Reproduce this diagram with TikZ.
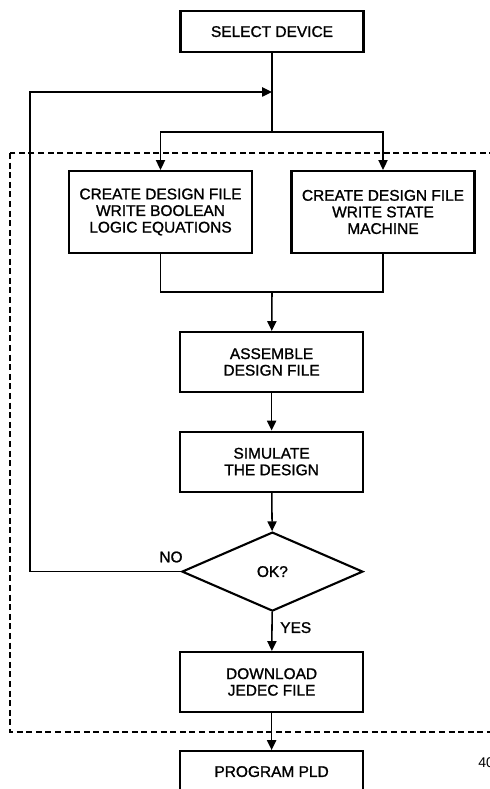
\documentclass[tikz,border=0pt]{standalone}
\usepackage{fontspec}
\setmainfont{Liberation Sans}
\newfontfamily\flowfont[FakeBold=1.2]{Liberation Sans}
\usetikzlibrary{shapes.geometric, arrows.meta}

\begin{document}
\begin{tikzpicture}[
  box/.style={draw, line width=1.5pt, minimum width=4.575cm, align=center, font=\flowfont\fontsize{11}{11.8}\selectfont},
  line/.style={line width=1.1pt},
  arr/.style={line, -{Triangle[length=7pt, width=6.5pt]}},
  tag/.style={font=\flowfont\fontsize{11}{11.8}\selectfont},
]
\useasboundingbox (0, 0) rectangle (12.225, -19.725);
% the part that is repeated until the design is right
\draw[line, dash pattern=on 0.15cm off 0.09cm] (0.25, -3.825) rectangle (12.6, -18.3);
\node[box, minimum height=1.025cm] (select) at (6.8, -0.79) {SELECT DEVICE};
\node[box, minimum height=2.05cm] (logic) at (4.0125, -5.3) {CREATE DESIGN FILE\\WRITE BOOLEAN\\LOGIC EQUATIONS};
\node[box, minimum height=2.05cm] (state) at (9.575, -5.3) {CREATE DESIGN FILE\\WRITE STATE\\MACHINE};
\node[box, minimum height=1.5cm] (asm) at (6.79, -9.05) {ASSEMBLE\\DESIGN FILE};
\node[box, minimum height=1.5cm] (sim) at (6.79, -11.54) {SIMULATE\\THE DESIGN};
\node[draw, line width=1.5pt, diamond, minimum width=4.525cm, minimum height=1.975cm, inner sep=0pt, tag] (ok) at (6.81, -14.29) {OK?};
\node[box, minimum height=1.5cm] (jedec) at (6.79, -17.05) {DOWNLOAD\\JEDEC FILE};
\node[box, minimum height=1.025cm] (pld) at (6.79, -19.29) {PROGRAM PLD};
\coordinate (join) at (6.8, -2.3);
\coordinate (split) at (6.8, -3.3);
\coordinate (merge) at (6.8, -7.3);
\draw[line] (select) -- (split);
\draw[arr] (split) -| (logic.north);
\draw[arr] (split) -| (state.north);
\draw[line] (logic) |- (merge) -| (state);
\draw[arr] (merge) -- (asm);
\draw[arr] (asm) -- (sim);
\draw[arr] (sim) -- (ok);
\draw[arr] (ok) -- (jedec) node[tag, pos=0.4, right=2pt]{YES};
\draw[arr] (ok.west) -| (0.75, -2.3) -- (join);
\node[tag] (no) at (4.275, -13.925) {NO};
\draw[arr] (jedec) -- (pld);
\node[font=\fontsize{10}{11}\selectfont, anchor=west, inner sep=0pt] (page) at (11.95, -19.075) {40};
\end{tikzpicture}
\end{document}
